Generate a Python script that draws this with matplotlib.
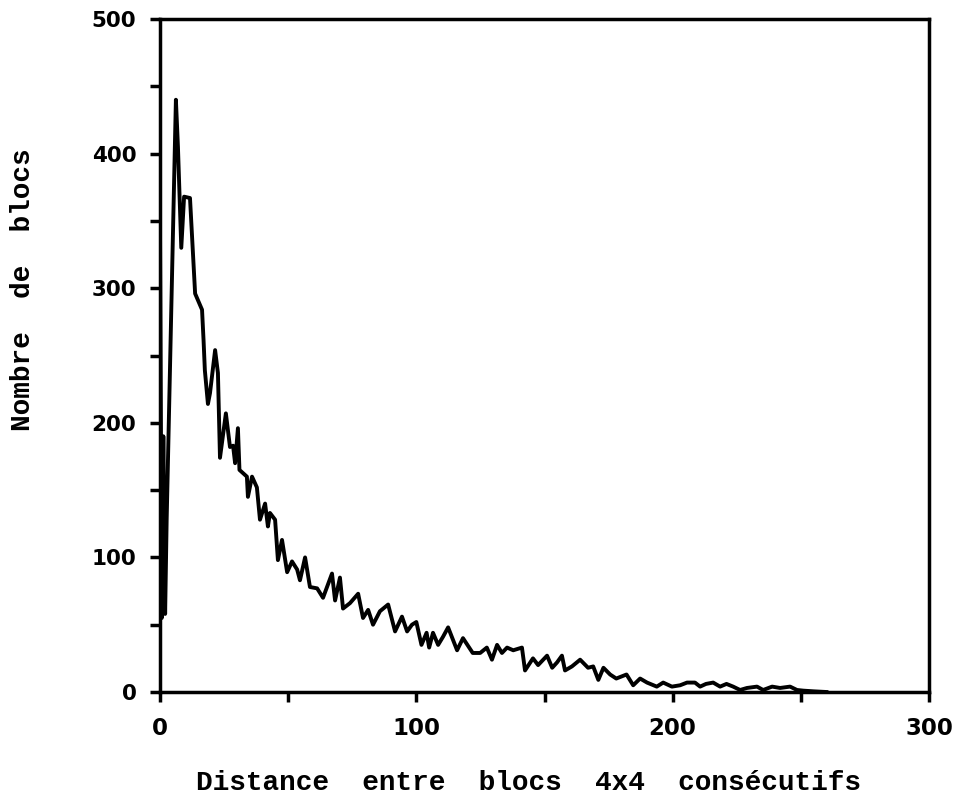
import matplotlib
matplotlib.use("Agg")
import matplotlib.pyplot as plt
from matplotlib.ticker import MultipleLocator

# Data (distance, number of blocks)
distance = [0, 0.7, 1.3, 2.0, 2.6, 6.2, 7.0, 8.3, 9.4, 11.7, 13.7, 16.4, 17.0, 17.5,
            18.7, 19.5, 21.5, 22.6, 23.4, 25.7, 27.3, 28.5, 29.3, 30.4, 31.0, 33.9,
            34.3, 35.9, 37.8, 39.0, 41.0, 42.1, 42.9, 44.9, 46.0, 47.6, 49.6, 51.5,
            53.5, 54.6, 56.6, 58.5, 61.3, 63.6, 67.1, 68.3, 70.2, 71.4, 74.1, 77.3,
            79.2, 81.2, 83.1, 85.8, 89.0, 91.7, 94.4, 96.4, 98.3, 100.0, 102.0, 104.0,
            105.0, 106.5, 108.5, 110.4, 112.4, 115.9, 118.2, 122.0, 124.9, 127.5,
            129.5, 131.5, 133.4, 135.4, 137.8, 141.2, 142.4, 145.5, 147.5, 151.0,
            153.0, 154.9, 156.8, 158.0, 160.7, 163.9, 167.0, 169.0, 171.0, 173.0,
            175.6, 178.0, 182.0, 184.6, 187.3, 190.0, 193.8, 196.3, 199.7, 202.9,
            205.6, 208.7, 210.7, 213.0, 215.8, 218.5, 221.0, 223.6, 226.3, 229.0,
            232.9, 235.3, 238.8, 241.9, 245.8, 248.5, 251.0, 255.0, 260.0]
blocks = [345, 55, 190, 58, 128, 440, 405, 330, 368, 367, 296, 284, 261, 239,
          214, 222, 254, 237, 174, 207, 182, 183, 170, 196, 165, 160,
          145, 160, 152, 128, 140, 123, 133, 128, 98, 113, 89, 97,
          91, 83, 100, 78, 77, 70, 88, 68, 85, 62, 66, 73,
          55, 61, 50, 60, 65, 45, 56, 45, 50, 52, 35, 44,
          33, 44, 35, 41, 48, 31, 40, 29, 29, 33,
          24, 35, 29, 33, 31, 33, 16, 25, 20, 27,
          18, 22, 27, 16, 19, 24, 18, 19, 9, 18,
          13, 10, 13, 5, 10, 7, 4, 7, 4, 5,
          7, 7, 4, 6, 7, 4, 6, 4, 1.5, 3,
          4, 1.5, 4, 3, 4, 1.5, 1, 0.5, 0]

x_major = [0, 100, 200, 300]
y_major = [0, 100, 200, 300, 400, 500]
x_label = "Distance  entre  blocs  4x4  consécutifs"
y_label = "Nombre  de  blocs"

plt.rcParams["font.family"] = ["DejaVu Sans"]
plt.rcParams["font.weight"] = "bold"

fig = plt.figure(figsize=(9.57, 8.0), dpi=100)
ax = fig.add_axes([160/957, 1-692/800, (929-160)/957, (692-19)/800])

ax.plot(distance, blocks, color="black", lw=2.8, solid_joinstyle="round")

ax.set_xlim(0, 300)
ax.set_ylim(0, 500)
ax.set_xticks(x_major)
ax.set_yticks(y_major)
ax.xaxis.set_minor_locator(MultipleLocator(50))
ax.yaxis.set_minor_locator(MultipleLocator(50))
for s in ax.spines.values():
    s.set_linewidth(2.5)
ax.tick_params(which="both", direction="out", length=7, width=2.5)
ax.tick_params(axis="x", which="major", labelsize=16.5, pad=11)
ax.tick_params(axis="y", which="major", labelsize=15.5, pad=10)

fig.text(529/957, 1-783/800, x_label, ha="center", va="center",
         family="Liberation Mono", weight="bold", fontsize=20)
fig.text(23/957, 1-290/800, y_label, ha="center", va="center", rotation=90,
         family="Liberation Mono", weight="bold", fontsize=20)

fig.savefig("out.png", dpi=100)
